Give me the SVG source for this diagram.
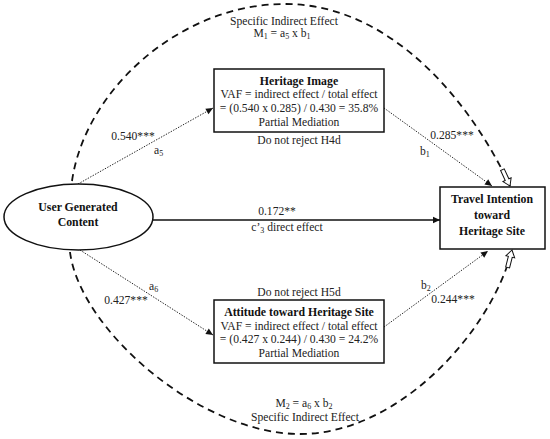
<svg xmlns="http://www.w3.org/2000/svg" width="550" height="439" viewBox="0 0 550 439">
<style>
text{font-family:"Liberation Serif","Times New Roman",serif;font-size:11.6px;fill:#222;}
.b{font-weight:bold;font-size:11.8px;fill:#111;}
.c{text-anchor:middle;}
.sub{font-size:8px;}
.box{fill:#fff;stroke:#111;stroke-width:1.5;}
.dot{fill:none;stroke:#222;stroke-width:1;stroke-dasharray:1.4 1.4;marker-end:url(#ah);}
.solid{fill:none;stroke:#111;stroke-width:1.5;marker-end:url(#ah);}
.dash{fill:none;stroke:#111;stroke-width:1.8;stroke-dasharray:7 5;marker-end:url(#hollow);}
</style>
<defs>
<marker id="ah" viewBox="-8 -4 9 8" refX="0" refY="0" markerWidth="9" markerHeight="8" orient="auto" markerUnits="userSpaceOnUse">
<path d="M0,0 L-7,-3.2 L-7,3.2 Z" fill="#111" stroke="none"/>
</marker>
<marker id="hollow" viewBox="-20 -6 22 12" refX="0" refY="0" markerWidth="22" markerHeight="12" orient="auto" markerUnits="userSpaceOnUse">
<path d="M0,0 L-7,-4.5 L-7,-2 L-18,-2 L-18,2 L-7,2 L-7,4.5 Z" fill="#fff" stroke="#111" stroke-width="1" stroke-dasharray="none"/>
</marker>
</defs>

<g id="connectors">
<path class="dash" d="M72,181 C85,90 180,4 285,4 C390,4 470,100 510,186"/>
<path class="dash" d="M70,252 C80,330 200,434 300,434 C400,434 492,330 512,250"/>
<line class="dot" x1="78" y1="184" x2="213" y2="108"/>
<line class="dot" x1="384" y1="108" x2="492" y2="186"/>
<line class="dot" x1="80" y1="250" x2="213" y2="335"/>
<line class="dot" x1="384" y1="327" x2="488" y2="251"/>
<line class="solid" x1="153" y1="220" x2="440" y2="220"/>
</g>

<g id="labels">
<text class="c" x="284" y="25">Specific Indirect Effect</text>
<text class="c" x="282" y="37">M<tspan class="sub" dy="2">1</tspan><tspan dy="-2"> = a</tspan><tspan class="sub" dy="2">5</tspan><tspan dy="-2"> x b</tspan><tspan class="sub" dy="2">1</tspan></text>
<text class="c" x="304" y="407">M<tspan class="sub" dy="2">2</tspan><tspan dy="-2"> = a</tspan><tspan class="sub" dy="2">6</tspan><tspan dy="-2"> x b</tspan><tspan class="sub" dy="2">2</tspan></text>
<text class="c" x="305" y="421">Specific Indirect Effect</text>
<text class="c" x="133" y="140">0.540***</text>
<text x="154" y="154">a<tspan class="sub" dy="2">5</tspan></text>
<text class="c" x="452" y="139">0.285***</text>
<text x="420" y="155">b<tspan class="sub" dy="2">1</tspan></text>
<text class="c" x="277" y="215">0.172**</text>
<text class="c" x="287" y="231">c’<tspan class="sub" dy="2">3</tspan><tspan dy="-2"> direct effect</tspan></text>
<text x="149" y="290">a<tspan class="sub" dy="2">6</tspan></text>
<text class="c" x="126" y="304">0.427***</text>
<text x="421" y="289">b<tspan class="sub" dy="2">2</tspan></text>
<text class="c" x="453" y="303">0.244***</text>
<text class="c" x="299" y="144">Do not reject H4d</text>
<text class="c" x="299" y="296">Do not reject H5d</text>
</g>

<g id="ugc">
<ellipse cx="78.5" cy="217" rx="74.5" ry="33" fill="#fff" stroke="#111" stroke-width="1.5"/>
<text class="b c" x="78" y="211">User Generated</text>
<text class="b c" x="78" y="226">Content</text>
</g>

<g id="heritage-image">
<rect class="box" x="214" y="69" width="170" height="63"/>
<text class="b c" x="299" y="85">Heritage Image</text>
<text class="c" x="299" y="98">VAF = indirect effect / total effect</text>
<text class="c" x="299" y="112">= (0.540 x 0.285) / 0.430 = 35.8%</text>
<text class="c" x="299" y="126">Partial Mediation</text>
</g>

<g id="attitude">
<rect class="box" x="214" y="300" width="170" height="63"/>
<text class="b c" x="299" y="316">Attitude toward Heritage Site</text>
<text class="c" x="299" y="330">VAF = indirect effect / total effect</text>
<text class="c" x="299" y="343">= (0.427 x 0.244) / 0.430 = 24.2%</text>
<text class="c" x="299" y="357">Partial Mediation</text>
</g>

<g id="travel">
<rect class="box" x="440" y="187" width="105" height="62"/>
<text class="b c" x="492" y="203">Travel Intention</text>
<text class="b c" x="492" y="219">toward</text>
<text class="b c" x="492" y="235">Heritage Site</text>
</g>
</svg>
